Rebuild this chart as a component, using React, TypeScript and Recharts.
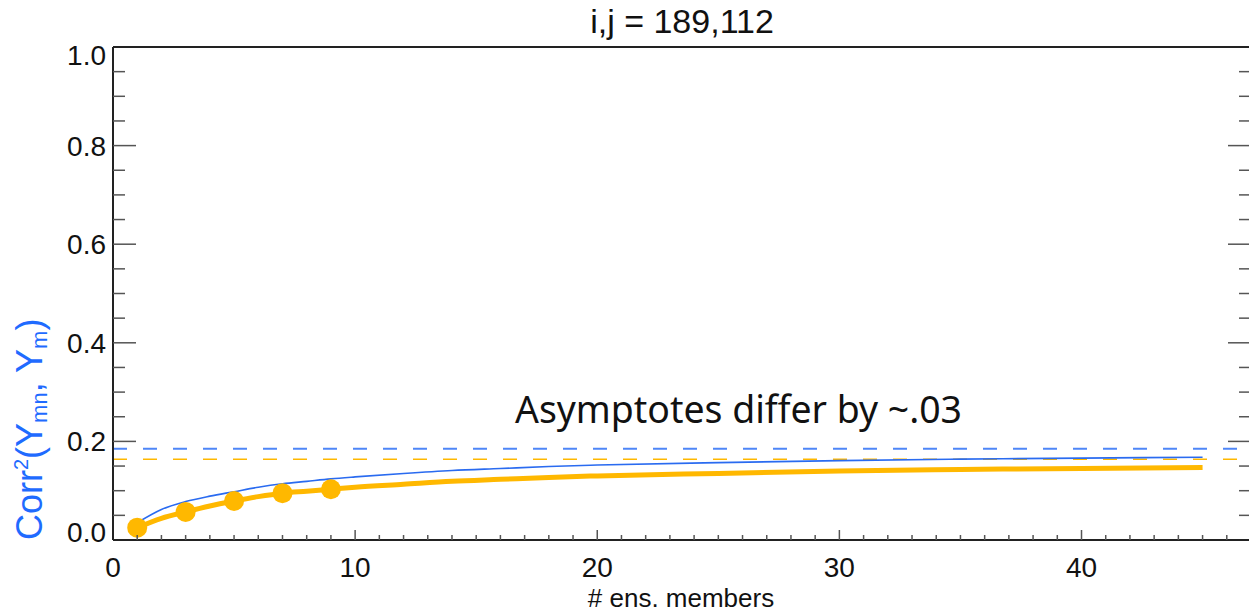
import React from 'react';
import { ComposedChart, Line, XAxis, YAxis, ReferenceLine, Customized } from 'recharts';

// ---- data ----
const members = [1, 2, 3, 4, 5, 6, 7, 8, 9, 10, 12, 14, 16, 18, 20, 25, 30, 35, 40, 45];
const blueCorr = [0.035, 0.062, 0.078, 0.089, 0.098, 0.107, 0.114, 0.119, 0.124, 0.128, 0.135, 0.141, 0.145, 0.149, 0.152, 0.157, 0.161, 0.164, 0.166, 0.168];
const orangeCorr = [0.025, 0.044, 0.057, 0.069, 0.079, 0.088, 0.095, 0.099, 0.103, 0.107, 0.113, 0.119, 0.123, 0.127, 0.130, 0.135, 0.140, 0.143, 0.145, 0.147];
const pointMembers = [1, 3, 5, 7, 9];
const pointCorr = [0.025, 0.057, 0.079, 0.095, 0.103];
const blueAsymptote = 0.185;
const orangeAsymptote = 0.164;

// tick positions (majors get labels / long marks)
const xTicks = [0, 1, 2, 3, 4, 5, 6, 7, 8, 9, 10, 11, 12, 13, 14, 15, 16, 17, 18, 19, 20, 21, 22, 23, 24, 25, 26, 27, 28, 29, 30, 31, 32, 33, 34, 35, 36, 37, 38, 39, 40, 41, 42, 43, 44, 45, 46];
const xMajorTicks = [0, 10, 20, 30, 40];
const yTicks = [0, 0.05, 0.1, 0.15, 0.2, 0.25, 0.3, 0.35, 0.4, 0.45, 0.5, 0.55, 0.6, 0.65, 0.7, 0.75, 0.8, 0.85, 0.9, 0.95, 1.0];
const yMajorTicks = [0, 0.2, 0.4, 0.6, 0.8, 1.0];

const titleText = 'i,j = 189,112';
const xLabelText = '# ens. members';
const noteText = 'Asymptotes differ by ~.03';

const curveData = members.map((n, i) => ({ n, blue: blueCorr[i], orange: orangeCorr[i] }));
const pointData = pointMembers.map((n, i) => ({ n, v: pointCorr[i] }));

// ---- styles ----
const ORANGE = '#FFB800';
const BLUE = '#2A6BF0';
const BLUE_DASH = '#4F86F7';
const LABEL_BLUE = '#1F6BFF';
const AXIS = '#222';
const TICK = '#555';
const FONT = '"Liberation Sans", Arial, Helvetica, sans-serif';

const X_DOMAIN: [number, number] = [0, 47];
const Y_DOMAIN: [number, number] = [0, 1];

const isMajorX = (v: number) => xMajorTicks.some((m) => Math.abs(m - v) < 1e-9);
const isMajorY = (v: number) => yMajorTicks.some((m) => Math.abs(m - v) < 1e-9);

const BottomTick = (props: any) => {
  const { x, y, payload } = props;
  const v = payload.value;
  const major = isMajorX(v);
  const len = major ? 10 : 5;
  return (
    <g>
      {v > 0 && <line x1={x} y1={y} x2={x} y2={y - len} stroke={TICK} strokeWidth={1.5} />}
      {major && (
        <text x={x} y={y + 17} dy="0.71em" textAnchor="middle" fontSize={28} fontFamily={FONT} fill="#111">
          {v}
        </text>
      )}
    </g>
  );
};

const TopTick = (props: any) => {
  const { x, y, payload } = props;
  const v = payload.value;
  if (v <= 0) return <g />;
  const len = isMajorX(v) ? 10 : 5;
  return <line x1={x} y1={y} x2={x} y2={y + len} stroke={TICK} strokeWidth={1.5} />;
};

const LeftTick = (props: any) => {
  const { x, y, payload } = props;
  const v = payload.value;
  const major = isMajorY(v);
  const len = major ? 23 : 12;
  const shift = v === 0 ? -8 : v === 1 ? 8 : 0;
  return (
    <g>
      {v > 0 && v < 1 && <line x1={x} y1={y} x2={x + len} y2={y} stroke={TICK} strokeWidth={1.5} />}
      {major && (
        <text x={x - 7} y={y + shift} dy="0.355em" textAnchor="end" fontSize={28} fontFamily={FONT} fill="#111">
          {v.toFixed(1)}
        </text>
      )}
    </g>
  );
};

const RightTick = (props: any) => {
  const { x, y, payload } = props;
  const v = payload.value;
  if (v <= 0 || v >= 1) return <g />;
  const len = isMajorY(v) ? 23 : 12;
  return <line x1={x} y1={y} x2={x - len} y2={y} stroke={TICK} strokeWidth={1.5} />;
};

const Texts = () => (
  <g>
    <text x={682} y={33} textAnchor="middle" fontSize={34} fontFamily={FONT} fill="#111">
      {titleText}
    </text>
    <text x={681} y={607} textAnchor="middle" fontSize={26} fontFamily={FONT} fill="#111">
      {xLabelText}
    </text>
    <text x={515} y={423} fontSize={38} fontFamily='"Noto Sans", "Open Sans", sans-serif' fill="#111" textLength={447} lengthAdjust="spacingAndGlyphs">
      {noteText}
    </text>
    <text transform="translate(42,540) rotate(-90)" fontSize={36} fontFamily={FONT} fill={LABEL_BLUE}>
      Corr
      <tspan dy={-14} fontSize={20}>2</tspan>
      <tspan dy={14}>(Y</tspan>
      <tspan dy={5} fontSize={22}>mn</tspan>
      <tspan dy={-5}>, Y</tspan>
      <tspan dy={5} fontSize={22}>m</tspan>
      <tspan dy={-5}>)</tspan>
    </text>
  </g>
);

export default function App() {
  return (
    <div style={{ position: 'absolute', left: 0, top: 0, width: 1249, height: 615, overflow: 'hidden', background: '#fff' }}>
      <ComposedChart width={1253} height={615} margin={{ top: 46, right: 1, bottom: 0, left: 0 }}>
        <XAxis xAxisId="x" dataKey="n" type="number" domain={X_DOMAIN} allowDataOverflow ticks={xTicks}
          interval={0} height={75} tickSize={0} tickMargin={0} tickLine={false}
          axisLine={{ stroke: AXIS, strokeWidth: 2 }} tick={<BottomTick />} />
        <XAxis xAxisId="top" type="number" domain={X_DOMAIN} allowDataOverflow ticks={xTicks} orientation="top"
          interval={0} height={1} tickSize={0} tickMargin={0} tickLine={false}
          axisLine={{ stroke: AXIS, strokeWidth: 2 }} tick={<TopTick />} />
        <YAxis yAxisId="y" type="number" domain={Y_DOMAIN} allowDataOverflow ticks={yTicks}
          interval={0} width={113} tickSize={0} tickMargin={0} tickLine={false}
          axisLine={{ stroke: AXIS, strokeWidth: 2 }} tick={<LeftTick />} />
        <YAxis yAxisId="right" type="number" domain={Y_DOMAIN} allowDataOverflow ticks={yTicks} orientation="right"
          interval={0} width={1} tickSize={0} tickMargin={0} tickLine={false}
          axisLine={{ stroke: AXIS, strokeWidth: 2 }} tick={<RightTick />} />

        <ReferenceLine xAxisId="x" yAxisId="y" y={blueAsymptote} stroke={BLUE_DASH} strokeWidth={2} strokeDasharray="14 16" ifOverflow="visible" />
        <ReferenceLine xAxisId="x" yAxisId="y" y={orangeAsymptote} stroke={ORANGE} strokeWidth={1.5} strokeDasharray="14 16" ifOverflow="visible" />

        <Line xAxisId="x" yAxisId="y" data={curveData} dataKey="orange" type="monotone" stroke={ORANGE}
          strokeWidth={5} dot={false} activeDot={false} isAnimationActive={false} />
        <Line xAxisId="x" yAxisId="y" data={pointData} dataKey="v" type="linear" stroke="none"
          dot={{ r: 10, fill: ORANGE, stroke: 'none' }} activeDot={false} isAnimationActive={false} />
        <Line xAxisId="x" yAxisId="y" data={curveData} dataKey="blue" type="monotone" stroke={BLUE}
          strokeWidth={1.6} dot={false} activeDot={false} isAnimationActive={false} />

        <Customized component={Texts} />
      </ComposedChart>
    </div>
  );
}
